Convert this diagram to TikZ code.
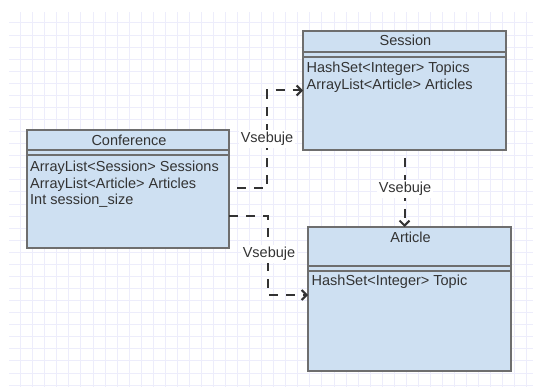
\documentclass[tikz,border=0pt]{standalone}
\usepackage{fontspec}
\setmainfont{Liberation Sans}
\usetikzlibrary{arrows.meta,calc}
\definecolor{gridc}{HTML}{EDEDFB}
\definecolor{boxfill}{HTML}{CEE0F2}
\definecolor{boxline}{HTML}{6E6E6E}
\definecolor{txt}{HTML}{333333}
\definecolor{connc}{HTML}{333333}
\begin{document}
\begin{tikzpicture}[x=1pt,y=-1pt,
  every node/.style={font=\fontsize{14.5pt}{16.5pt}\selectfont, text=txt},
  umlbox/.style={draw=boxline, fill=boxfill, line width=2.5pt, inner sep=0pt, outer sep=0pt},
  sepline/.style={draw=boxline, line width=2pt},
  titletext/.style={anchor=base, inner sep=0pt},
  attrtext/.style={anchor=base west, inner sep=0pt},
  conn/.style={draw=connc, line width=2pt, dash pattern=on 9pt off 8pt,
     -{Straight Barb[length=5pt,width=10pt]}},
  lbl/.style={fill=white, inner sep=2pt, anchor=base}
]
\useasboundingbox (0,0) rectangle (533,387);
\fill[white] (0,0) rectangle (533,387);
% grid
\begin{scope}
  \clip (9,13) rectangle (533,387);
  \foreach \i in {0,...,43} \draw[gridc, line width=1pt] ({20.7+12.05*\i},0) -- ++(0,400);
  \foreach \j in {0,...,31} \draw[gridc, line width=1pt] (0,{23+12.07*\j}) -- ++(540,0);
\end{scope}

% boxes
\node[umlbox, minimum width=202pt, minimum height=118pt] (conf) at (128,189) {};
\node[umlbox, minimum width=203pt, minimum height=119pt] (sess) at (404.5,90.5) {};
\node[umlbox, minimum width=203pt, minimum height=144pt] (art) at (409.5,299) {};

% header separators
\draw[sepline] ([yshift=-20pt]conf.north west) -- ([yshift=-20pt]conf.north east);
\draw[sepline] ([yshift=-25pt]conf.north west) -- ([yshift=-25pt]conf.north east);
\draw[sepline] ([yshift=-21pt]sess.north west) -- ([yshift=-21pt]sess.north east);
\draw[sepline] ([yshift=-26pt]sess.north west) -- ([yshift=-26pt]sess.north east);
\draw[sepline] ([yshift=-39pt]art.north west) -- ([yshift=-39pt]art.north east);
\draw[sepline] ([yshift=-44pt]art.north west) -- ([yshift=-44pt]art.north east);

% titles
\node[titletext] (conft) at (129,146) {Conference};
\node[titletext] (sesst) at (405.5,46) {Session};
\node[titletext] (artt) at (410.5,243) {Article};

% attributes
\node[attrtext] (confa1) at (30,172) {ArrayList<Session> Sessions};
\node[attrtext] (confa2) at (30,188.5) {ArrayList<Article> Articles};
\node[attrtext] (confa3) at (30,205) {Int session\_size};
\node[attrtext] (sessa1) at (306.5,73) {HashSet<Integer> Topics};
\node[attrtext] (sessa2) at (306.5,89.5) {ArrayList<Article> Articles};
\node[attrtext] (arta) at (311.5,286) {HashSet<Integer> Topic};

% connectors
\draw[conn, dash phase=9pt] ([yshift=1pt]conf.east) -| ([xshift=-36pt]sess.west) -- (sess.west);
\draw[conn] ([yshift=-27pt]conf.east) -| ([xshift=-40pt,yshift=4pt]art.west) -- ([yshift=4pt]art.west);
\draw[conn, dash phase=9pt] (sess.south) -- (sess.south |- art.north);

% labels
\node[lbl] (l1) at (267,143) {Vsebuje};
\node[lbl] (l2) at (269,258) {Vsebuje};
\node[lbl] (l3) at (405,193) {Vsebuje};
\end{tikzpicture}
\end{document}
